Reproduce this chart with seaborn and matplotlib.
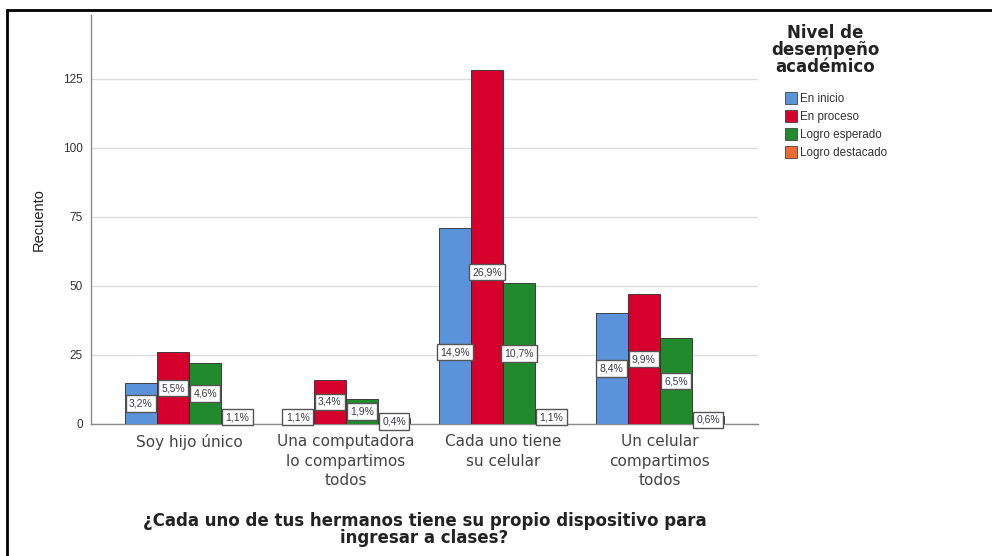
import matplotlib
matplotlib.use("Agg")
import matplotlib.pyplot as plt
import seaborn as sns
import pandas as pd
from matplotlib.lines import Line2D
from matplotlib.patches import Patch

# ---- data ----
categories = ["Soy hijo único", "Una computadora\nlo compartimos\ntodos",
              "Cada uno tiene\nsu celular", "Un celular\ncompartimos\ntodos"]
levels = ["En inicio", "En proceso", "Logro esperado", "Logro destacado"]
en_inicio = [15, 5, 71, 40]
en_proceso = [26, 16, 128, 47]
logro_esperado = [22, 9, 51, 31]
logro_destacado = [5, 2, 5, 3]
pct_inicio = ["3,2%", "1,1%", "14,9%", "8,4%"]
pct_proceso = ["5,5%", "3,4%", "26,9%", "9,9%"]
pct_esperado = ["4,6%", "1,9%", "10,7%", "6,5%"]
pct_destacado = ["1,1%", "0,4%", "1,1%", "0,6%"]
y_ticks = [0, 25, 50, 75, 100, 125]

series = [en_inicio, en_proceso, logro_esperado, logro_destacado]
pcts = [pct_inicio, pct_proceso, pct_esperado, pct_destacado]
rows = []
for lev, vals in zip(levels, series):
    for cat, v in zip(categories, vals):
        rows.append({"cat": cat, "nivel": lev, "n": v})
df = pd.DataFrame(rows)

colors = ["#5B93DA", "#D5002B", "#218A2C", "#EE6A34"]

sns.set_theme(style="white")
plt.rcParams["font.family"] = ["Liberation Sans", "DejaVu Sans"]

fig = plt.figure(figsize=(9.92, 5.56), dpi=100)
ax = fig.add_axes([91/992, 1-424/556, (758-91)/992, (424-15)/556])

sns.barplot(data=df, x="cat", y="n", hue="nivel", order=categories,
            hue_order=levels, palette=colors, width=0.82, dodge=True,
            edgecolor="#2b2b2b", linewidth=0.6, saturation=1, ax=ax,
            legend=False, zorder=3)

ax.set_ylim(0, 148)
ax.set_xlim(-0.625, 3.625)
ax.set_yticks(y_ticks)
ax.set_yticklabels([str(t) for t in y_ticks], fontsize=8.5, color="#333333")
ax.tick_params(axis="both", length=0, pad=6)
ax.tick_params(axis="x", pad=7)
for t in ax.get_xticklabels():
    t.set_linespacing(1.4)
    t.set_fontsize(11)
    t.set_color("#444444")
    t.set_family(["DejaVu Sans"])
ax.yaxis.grid(True, color="#dcdcdc", linewidth=1, zorder=0)
ax.set_axisbelow(True)
for s in ["top", "right"]:
    ax.spines[s].set_visible(False)
ax.spines["left"].set_color("#8a8a8a")
ax.spines["bottom"].set_color("#8a8a8a")
ax.spines["left"].set_linewidth(1)
ax.spines["bottom"].set_linewidth(1)

ax.set_ylabel("Recuento", fontsize=10.5, color="#222222", labelpad=12)
ax.set_xlabel("¿Cada uno de tus hermanos tiene su propio dispositivo para\ningresar a clases?",
              fontsize=12, fontweight="bold", color="#222222", labelpad=17,
              linespacing=0.95, family=["DejaVu Sans"])

# label anchors: middle of bar, with a couple of adjusted ones (as SPSS does)
label_override = {(0, 2): 26, (1, 2): 55}
for li, cont in enumerate(ax.containers):
    for ci, bar in enumerate(cont):
        xc = bar.get_x() + bar.get_width() / 2
        h = bar.get_height()
        yc = label_override.get((li, ci), h / 2)
        ax.text(xc, yc, pcts[li][ci], ha="center", va="center", fontsize=7.5,
                color="#3a3a4a", zorder=5,
                bbox=dict(boxstyle="square,pad=0.32", facecolor="white",
                          edgecolor="#555555", linewidth=1.0))

# legend
fig.text(825/992, 1-50/556, "Nivel de\ndesempeño\nacadémico", ha="center",
         va="center", fontsize=12, fontweight="bold", color="#222222",
         linespacing=0.95, family=["DejaVu Sans"])
handles = [Patch(facecolor=c, edgecolor="#2b2b2b", linewidth=0.5) for c in colors]
leg = fig.legend(handles, levels, loc="upper left",
                 bbox_to_anchor=(785/992, 1-92/556), frameon=False,
                 fontsize=8.4, handlelength=1.05, handleheight=1.2,
                 handletextpad=0.25, labelspacing=0.45, borderaxespad=0,
                 borderpad=0)
for t in leg.get_texts():
    t.set_color("#333333")

# outer frame (left and top visible)
fig.add_artist(Line2D([7/992, 7/992], [0, 1-10/556], transform=fig.transFigure,
                      color="black", linewidth=2))
fig.add_artist(Line2D([7/992, 1], [1-10/556, 1-10/556], transform=fig.transFigure,
                      color="black", linewidth=2))

fig.savefig("out.png", dpi=100)
